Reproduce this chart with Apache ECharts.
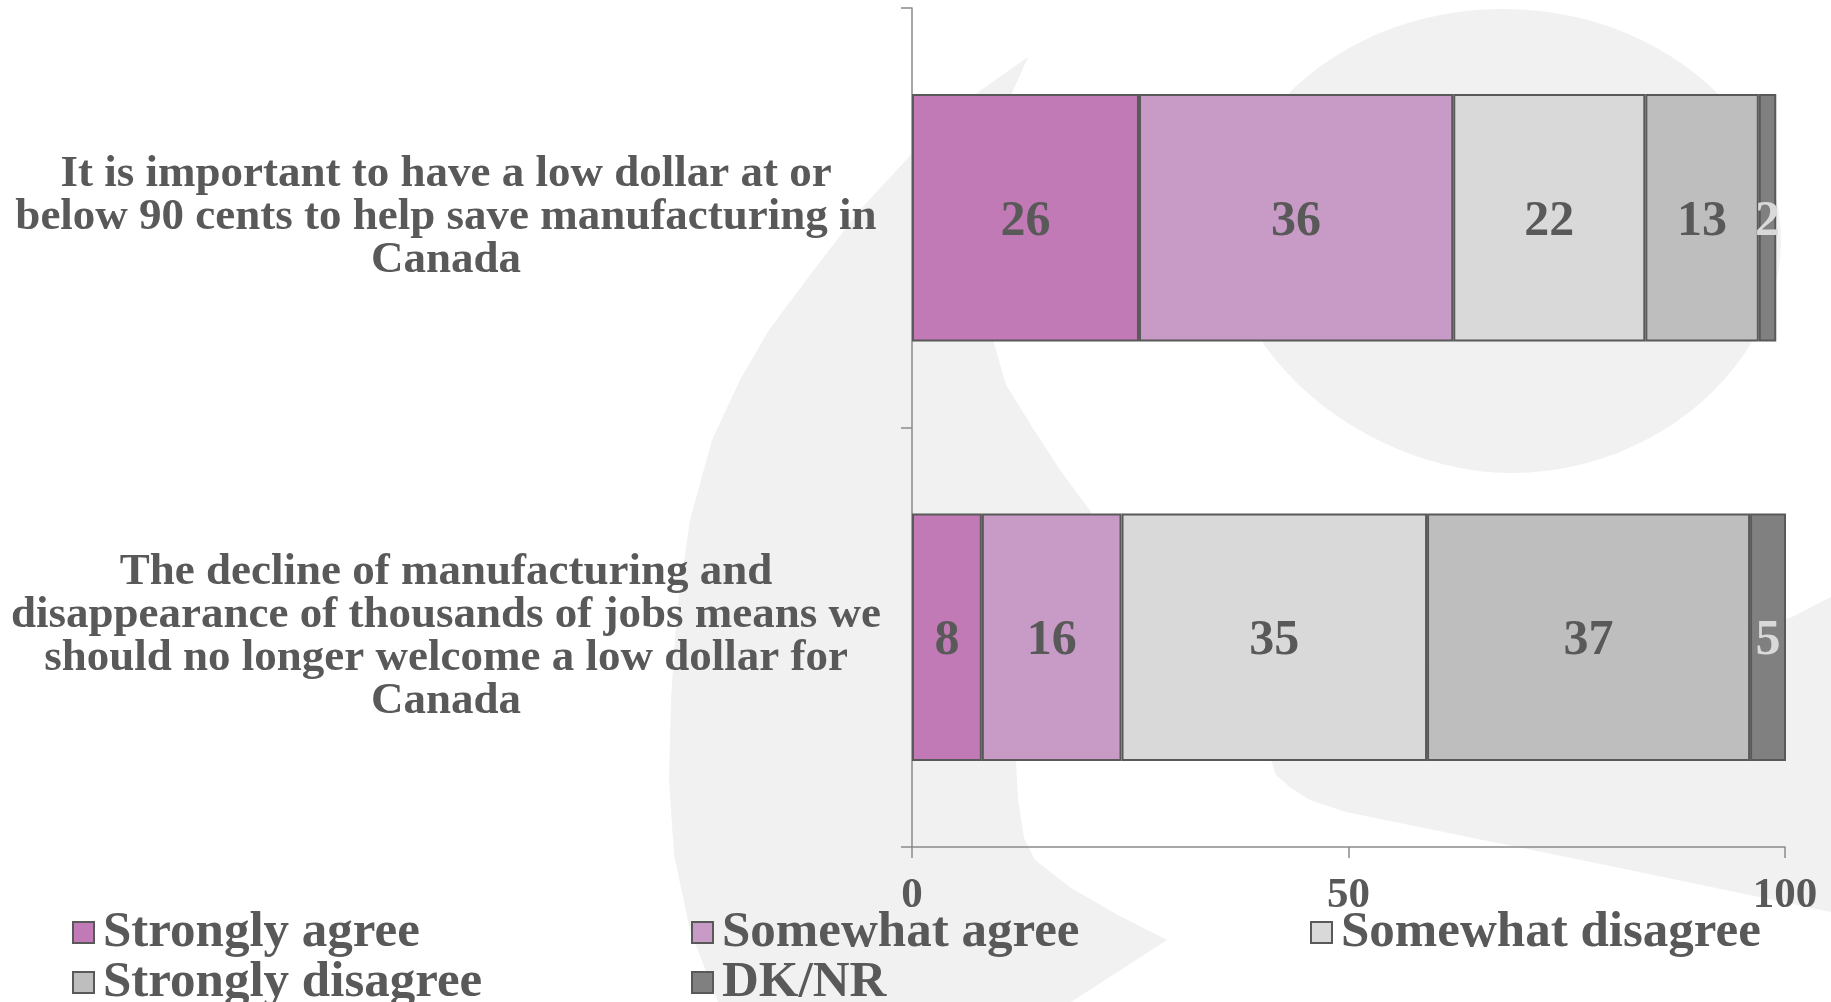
<!DOCTYPE html>
<html>
<head>
<meta charset="utf-8">
<title>Low dollar and manufacturing</title>
<script src="https://cdn.jsdelivr.net/npm/echarts@6/dist/echarts.min.js"></script>
<style>
  html, body { margin: 0; padding: 0; background: #ffffff; }
  #chart { width: 1831px; height: 1002px; }
</style>
</head>
<body>
<div id="chart"></div>
<script>
// Survey statements (top to bottom)
const categories = [
  'It is important to have a low dollar at or\nbelow 90 cents to help save manufacturing in\nCanada',
  'The decline of manufacturing and\ndisappearance of thousands of jobs means we\nshould no longer welcome a low dollar for\nCanada'
];

// Response groups
const seriesNames = ['Strongly agree', 'Somewhat agree', 'Somewhat disagree', 'Strongly disagree', 'DK/NR'];

// Percent of respondents per statement
const stronglyAgree = [26, 8];
const somewhatAgree = [36, 16];
const somewhatDisagree = [22, 35];
const stronglyDisagree = [13, 37];
const dkNr = [2, 5];

// Value axis ticks
const xMin = 0;
const xMax = 100;
const xStep = 50;

const seriesValues = [stronglyAgree, somewhatAgree, somewhatDisagree, stronglyDisagree, dkNr];
const seriesColors = ['#C17AB5', '#C89BC6', '#D9D9D9', '#BFBEBF', '#808080'];
const labelColors = ['#595959', '#595959', '#595959', '#595959', '#D9D9D9'];

const FONT = '"Liberation Serif", "DejaVu Serif", serif';
const TEXT = '#595959';
const BG_SHAPE = '#F1F1F1';

// Decorative watermark shapes behind the plot.
// Sample a chain of cubic bezier segments into polygon points.
function bezierChain(start, segs, steps) {
  const out = [start];
  let p0 = start;
  segs.forEach(s => {
    const [c1, c2, p3] = s;
    for (let k = 1; k <= steps; k++) {
      const t = k / steps, u = 1 - t;
      out.push([
        u * u * u * p0[0] + 3 * u * u * t * c1[0] + 3 * u * t * t * c2[0] + t * t * t * p3[0],
        u * u * u * p0[1] + 3 * u * u * t * c1[1] + 3 * u * t * t * c2[1] + t * t * t * p3[1]
      ]);
    }
    p0 = p3;
  });
  return out;
}
const bowlPoints = bezierChain([1503, 9], [
  [[1656, 9], [1781, 113], [1781, 241]],
  [[1781, 360], [1660, 473], [1511, 473]],
  [[1380, 473], [1235, 370], [1225, 241]],
  [[1225, 113], [1350, 9], [1503, 9]]
], 24);
const crescentPoints = [
  [1028, 57], [1012, 93], [1000, 200], [993, 300], [994, 343], [1006, 385], [1034, 430],
  [1060, 470], [1091, 512], [1100, 560], [1060, 680], [1020, 740], [1016, 760], [1018, 800],
  [1024, 838], [1035, 860], [1071, 888], [1118, 915], [1167, 940], [1071, 1002],
  [718, 1002], [690, 930], [674, 855], [669, 780], [671, 700], [677, 610], [690, 520],
  [712, 440], [740, 380], [769, 330], [810, 275], [860, 210], [920, 145], [977, 93]
];
const tailPoints = [
  [1200, 690], [1790, 618], [1831, 597], [1831, 912], [1620, 868], [1346, 812],
  [1310, 800], [1291, 788], [1276, 775], [1271, 760], [1265, 700]
];

const chart = echarts.init(document.getElementById('chart'), null, { renderer: 'canvas' });

const legendSlots = [
  { name: 'Strongly agree', left: 72, top: 907 },
  { name: 'Somewhat agree', left: 691, top: 907 },
  { name: 'Somewhat disagree', left: 1310, top: 907 },
  { name: 'Strongly disagree', left: 72, top: 957 },
  { name: 'DK/NR', left: 691, top: 957 }
];

const option = {
  backgroundColor: '#ffffff',
  animation: false,
  textStyle: { fontFamily: FONT },
  graphic: [
    { type: 'polygon', z: -10, silent: true, shape: { points: bowlPoints }, style: { fill: BG_SHAPE } },
    { type: 'polygon', z: -10, silent: true, shape: { points: crescentPoints }, style: { fill: BG_SHAPE } },
    { type: 'polygon', z: -10, silent: true, shape: { points: tailPoints }, style: { fill: BG_SHAPE } }
  ],
  legend: legendSlots.map(s => ({
    data: [s.name],
    left: s.left,
    top: s.top,
    padding: 0,
    itemWidth: 21,
    itemHeight: 21,
    itemGap: 0,
    icon: 'rect',
    selectedMode: false,
    textStyle: { fontFamily: FONT, fontWeight: 'bold', fontSize: 51, color: TEXT, padding: [0, 0, 0, 4] }
  })),
  grid: { left: 912, right: 46, top: 8, bottom: 155, containLabel: false },
  xAxis: {
    type: 'value',
    min: xMin,
    max: xMax,
    interval: xStep,
    splitLine: { show: false },
    axisLine: { show: true, lineStyle: { color: '#8A8A8A', width: 1.5 } },
    axisTick: { show: true, length: 11, lineStyle: { color: '#8A8A8A', width: 1.5 } },
    axisLabel: { fontFamily: FONT, fontWeight: 'bold', fontSize: 43, color: TEXT, margin: 27 }
  },
  yAxis: {
    type: 'category',
    inverse: true,
    data: categories,
    axisLine: { show: true, lineStyle: { color: '#8A8A8A', width: 1.5 } },
    axisTick: { show: true, length: 11, lineStyle: { color: '#8A8A8A', width: 1.5 } },
    axisLabel: {
      fontFamily: FONT, fontWeight: 'bold', fontSize: 45, lineHeight: 43,
      color: TEXT, align: 'center', margin: 466
    }
  },
  series: seriesNames.map((name, i) => ({
    name: name,
    type: 'bar',
    stack: 'total',
    barWidth: '59%',
    data: seriesValues[i],
    itemStyle: { color: seriesColors[i], borderColor: '#595959', borderWidth: 2 },
    label: {
      show: true,
      position: 'inside',
      offset: [0, 4],
      fontFamily: FONT,
      fontWeight: 'bold',
      fontSize: 50,
      color: labelColors[i]
    },
    emphasis: { disabled: true }
  }))
};

chart.setOption(option);
</script>
</body>
</html>
